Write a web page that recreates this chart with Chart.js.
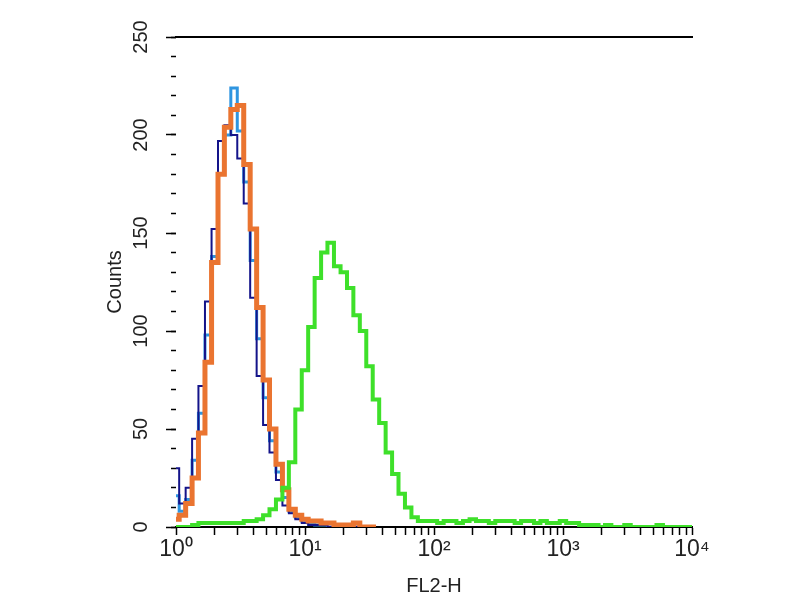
<!DOCTYPE html>
<html>
<head>
<meta charset="utf-8">
<script src="https://cdn.jsdelivr.net/npm/chart.js@4/dist/chart.umd.min.js"></script>
<style>
  body { margin: 0; background: #fff; }
  #wrap { width: 800px; height: 600px; }
</style>
</head>
<body>
<div id="wrap"><canvas id="hist1"></canvas></div>
<script>
// channel values (log spaced, 20 per decade)
var channels = [
  1, 1.12, 1.26, 1.41, 1.58, 1.78, 2, 2.24, 2.51, 2.82, 3.16, 3.55, 3.98, 4.47, 5.01, 5.62, 6.31, 7.08, 7.94, 8.91,
  10, 11.2, 12.6, 14.1, 15.8, 17.8, 20, 22.4, 25.1, 28.2, 31.6, 35.5, 39.8, 44.7, 50.1, 56.2, 63.1, 70.8, 79.4, 89.1,
  100, 112, 126, 141, 158, 178, 200, 224, 251, 282, 316, 355, 398, 447, 501, 562, 631, 708, 794, 891,
  1000, 1120, 1260, 1410, 1580, 1780, 2000, 2240, 2510, 2820, 3160, 3550, 3980, 4470, 5010, 5620, 6310, 7080, 7940, 8910,
  10000
];

var navyCounts = [30, 12, 20, 45, 72, 115, 152, 197, 205, 200, 188, 165, 117, 77, 52, 38, 24, 11, 7, 4, 2, 1, 1, 1, 0, 0, 0, 0, 0, 0];
var blueCounts = [16, 8, 14, 34, 58, 98, 138, 180, 200, 224, 202, 176, 136, 96, 66, 44, 28, 15, 8, 5, 3, 2, 1, 1, 0, 0, 0, 0, 0, 0];
var orangeCounts = [4, 6, 12, 25, 48, 84, 135, 180, 204, 213, 215, 185, 152, 112, 75, 50, 32, 19, 9, 6, 4, 3, 3, 2, 2, 1, 1, 1, 2, 0, 0, 0];
var greenCounts = [
  0, 0, 0, 1, 2, 2, 2, 2, 2, 2, 2, 3, 3, 4, 6, 9, 14, 20, 33, 60,
  80, 102, 127, 140, 145, 133, 130, 122, 108, 100, 82, 65, 53, 38, 27, 17, 10, 5, 3, 3,
  3, 2, 3, 3, 2, 3, 4, 3, 3, 2, 3, 3, 3, 2, 3, 3, 2, 3, 2, 2,
  3, 2, 2, 1, 1, 1, 0, 1, 0, 0, 1, 0, 0, 0, 0, 1, 0, 0, 0, 0,
  0
];

var xTickValues = [1, 2, 3, 4, 5, 6, 7, 8, 9, 10, 20, 30, 40, 50, 60, 70, 80, 90, 100,
  200, 300, 400, 500, 600, 700, 800, 900, 1000, 2000, 3000, 4000, 5000, 6000, 7000, 8000, 9000, 10000];
var xTickLabels = { 1: '10\u2070', 10: '10\u00b9', 100: '10\u00b2', 1000: '10\u00b3', 10000: '10\u2074' };
var yTickValues = [0, 50, 100, 150, 200, 250];

var FONT = "'Liberation Sans', Arial, Helvetica, sans-serif";

var hist1 = new Chart(document.getElementById('hist1'), {
  type: 'line',
  data: {
    labels: channels,
    datasets: [
      { label: 'green', data: greenCounts, borderColor: '#3ee02a', borderWidth: 4 },
      { label: 'orange', data: orangeCounts, borderColor: '#ea7430', borderWidth: 5 },
      { label: 'navy', data: navyCounts, borderColor: '#14148a', borderWidth: 2 },
      { label: 'light blue', data: blueCounts, borderColor: '#2f95e0', borderWidth: 3 }
    ]
  },
  options: {
    responsive: true,
    maintainAspectRatio: false,
    animation: false,
    elements: { point: { radius: 0 }, line: { stepped: 'middle', fill: false } },
    layout: { padding: { left: 100, right: 108, top: 37, bottom: 0 } },
    plugins: { legend: { display: false }, tooltip: { enabled: false } },
    scales: {
      x: {
        type: 'logarithmic',
        position: 'bottom',
        min: 1,
        max: 10000,
        afterBuildTicks: function (s) {
          s.ticks = xTickValues.map(function (v) { return { value: v, major: !!xTickLabels[v] }; });
        },
        afterFit: function (s) { s.height = 73; s.paddingLeft = 0; s.paddingRight = 0; },
        grid: { drawOnChartArea: false, drawTicks: true, tickLength: 8, tickColor: '#000', tickWidth: 1.5 },
        border: { display: true, color: '#000', width: 2 },
        ticks: {
          autoSkip: false, maxRotation: 0, minRotation: 0, padding: 1,
          color: '#222', font: { family: FONT, size: 23 },
          callback: function (v) { return xTickLabels[v] || ''; }
        },
        title: { display: true, text: 'FL2-H', color: '#222', font: { family: FONT, size: 20 }, padding: { top: 0, bottom: 2 } }
      },
      x2: {
        type: 'linear',
        position: 'top',
        min: 0, max: 1,
        afterFit: function (s) { s.height = 0; s.paddingLeft = 0; s.paddingRight = 0; },
        grid: { drawOnChartArea: false, drawTicks: false },
        border: { display: true, color: '#000', width: 2 },
        ticks: { display: false }
      },
      y: {
        type: 'linear',
        position: 'left',
        weight: 2,
        min: 0,
        max: 250,
        afterBuildTicks: function (s) {
          s.ticks = yTickValues.map(function (v) { return { value: v }; });
        },
        afterFit: function (s) { s.width = 76; s.paddingTop = 0; s.paddingBottom = 0; },
        grid: { drawOnChartArea: false, drawTicks: true, tickLength: 10, tickColor: '#000', tickWidth: 1.5 },
        border: { display: false },
        ticks: {
          minRotation: 90, maxRotation: 90, crossAlign: 'center', padding: 8,
          color: '#222', font: { family: FONT, size: 20 }
        },
        title: { display: true, text: 'Counts', color: '#222', font: { family: FONT, size: 20 }, padding: { top: 3, bottom: 0 } }
      },
      yMinor: {
        type: 'linear',
        position: 'left',
        weight: 1,
        min: 0,
        max: 250,
        afterFit: function (s) { s.width = 0; s.paddingTop = 0; s.paddingBottom = 0; },
        grid: { drawOnChartArea: false, drawTicks: true, tickLength: 5, tickColor: '#000', tickWidth: 1.5 },
        border: { display: false },
        ticks: { display: false, stepSize: 10 }
      }
    }
  }
});
</script>
</body>
</html>
